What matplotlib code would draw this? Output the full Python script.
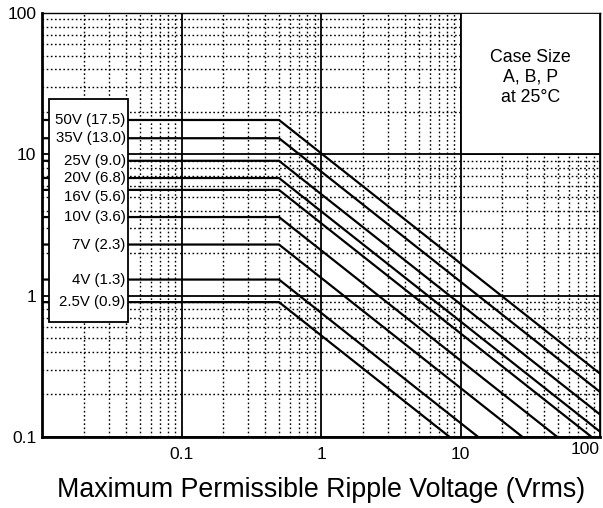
import matplotlib
matplotlib.use("Agg")
import matplotlib.pyplot as plt
from matplotlib.patches import Rectangle
from matplotlib.ticker import LogLocator, FixedLocator, NullFormatter
import numpy as np

plt.rcParams['font.family'] = ['Liberation Sans', 'DejaVu Sans']

# rated voltage and the flat level for each curve
ratings = ["50V", "35V", "25V", "20V", "16V", "10V", "7V", "4V", "2.5V"]
levels = [17.5, 13.0, 9.0, 6.8, 5.6, 3.6, 2.3, 1.3, 0.9]
knee = 0.5      # Vrms where the curves start to roll off
slope = -0.78   # log-log slope after the knee

xticks = [0.1, 1, 10, 100]
xticklabels = ["0.1", "1", "10", "100"]
yticks = [0.1, 1, 10, 100]
yticklabels = ["0.1", "1", "10", "100"]

fig = plt.figure(figsize=(6.03, 5.08), dpi=100)
ax = fig.add_axes([42/603, 71/508, 558/603, 424/508])
ax.set_xscale('log')
ax.set_yscale('log')
ax.set_xlim(0.01, 100)
ax.set_ylim(0.1, 100)

# grid: solid decades, dotted sub-decades
ax.xaxis.set_major_locator(FixedLocator(xticks))
ax.yaxis.set_major_locator(FixedLocator(yticks))
ax.xaxis.set_minor_locator(LogLocator(base=10, subs=np.arange(2, 10)))
ax.yaxis.set_minor_locator(LogLocator(base=10, subs=np.arange(2, 10)))
ax.xaxis.set_minor_formatter(NullFormatter())
ax.yaxis.set_minor_formatter(NullFormatter())
ax.set_axisbelow(True)
ax.grid(which='major', color='black', lw=1.3, ls='-')
ax.grid(which='minor', color='black', lw=1.0, ls=(0, (1.2, 1.8)))

ax.set_xticklabels(xticklabels)
ax.set_yticklabels(yticklabels)
ax.tick_params(which='both', length=0, labelsize=12.5, colors='black')
ax.tick_params(axis='x', pad=7)
ax.tick_params(axis='y', pad=4)
for lab in ax.get_xticklabels():
    if lab.get_text() == "100":
        lab.set_horizontalalignment('right')
        lab.set_y(0.01)

for side in ['left', 'bottom']:
    ax.spines[side].set_linewidth(2.0)
for side in ['top', 'right']:
    ax.spines[side].set_linewidth(1.0)

# derating curves
for lvl in levels:
    xs = [0.01, knee, 100]
    ys = [lvl, lvl, lvl * (100 / knee) ** slope]
    ax.plot(xs, ys, color='black', lw=1.6, zorder=2, solid_joinstyle='miter')

# legend box with the voltage labels
ax.add_patch(Rectangle((0.0125, 0.271), 0.142, 0.526, transform=ax.transAxes,
                       facecolor='white', edgecolor='black', lw=1.3, zorder=4))
trans = matplotlib.transforms.blended_transform_factory(ax.transAxes, ax.transData)
for name, lvl in zip(ratings, levels):
    dy = -5 if name == "16V" else 0
    ax.annotate(f"{name} ({lvl:.1f})", xy=(0.150, lvl), xycoords=trans,
                xytext=(0, dy), textcoords='offset points',
                ha='right', va='center', fontsize=10.8, zorder=5)

# case size note in the top-right decade
ax.add_patch(Rectangle((10, 10), 90, 90, facecolor='white', edgecolor='black',
                       lw=1.3, zorder=3))
ax.text(31.6, 35, "Case Size\nA, B, P\nat 25°C", ha='center', va='center',
        fontsize=12.8, linespacing=1.2, zorder=5)

ax.set_xlabel("Maximum Permissible Ripple Voltage (Vrms)", fontsize=19.3, labelpad=11)

fig.savefig("out.png", dpi=100)
